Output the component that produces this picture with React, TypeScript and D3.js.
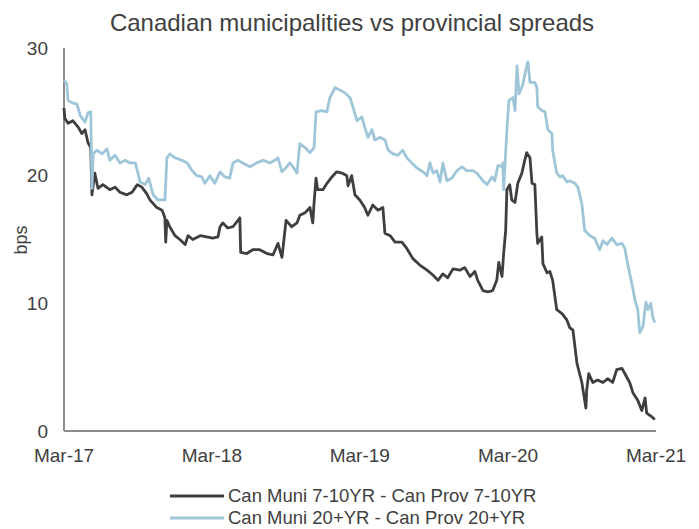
import React from "react";
import * as d3 from "d3";

const title = "Canadian municipalities vs provincial spreads";
const yLabel = "bps";
const yTicks = [0, 10, 20, 30];
const xTickDates = ["2017-03-01", "2018-03-01", "2019-03-01", "2020-03-01", "2021-03-01"];
const seriesNames = ["Can Muni 7-10YR - Can Prov 7-10YR", "Can Muni 20+YR - Can Prov 20+YR"];
const seriesColors = ["#3f3f3f", "#9ec6d8"];

const muni710: [string, number][] = [
  ["2017-03-01", 25.3], ["2017-03-03", 24.5], ["2017-03-11", 24.1], ["2017-03-23", 24.3],
  ["2017-04-05", 23.8], ["2017-04-14", 23.3], ["2017-04-22", 23.6], ["2017-04-29", 22.6],
  ["2017-05-06", 22.2], ["2017-05-09", 18.5], ["2017-05-16", 20.2], ["2017-05-24", 19.0],
  ["2017-06-05", 19.3], ["2017-06-22", 18.9], ["2017-07-05", 19.1], ["2017-07-17", 18.7],
  ["2017-08-03", 18.5], ["2017-08-16", 18.7], ["2017-08-29", 19.3], ["2017-09-09", 19.1],
  ["2017-09-21", 18.6], ["2017-09-29", 18.1], ["2017-10-16", 17.5], ["2017-10-29", 17.3],
  ["2017-11-05", 16.7], ["2017-11-07", 14.8], ["2017-11-10", 16.5], ["2017-11-17", 16.0],
  ["2017-11-30", 15.3], ["2017-12-12", 15.0], ["2017-12-25", 14.6], ["2018-01-01", 15.3],
  ["2018-01-13", 15.0], ["2018-01-31", 15.3], ["2018-02-16", 15.2], ["2018-03-03", 15.1],
  ["2018-03-16", 15.2], ["2018-03-21", 16.0], ["2018-03-28", 16.3], ["2018-04-09", 15.9],
  ["2018-04-22", 16.0], ["2018-05-09", 16.7], ["2018-05-11", 14.0], ["2018-05-26", 13.9],
  ["2018-06-10", 14.2], ["2018-06-27", 14.2], ["2018-07-15", 13.9], ["2018-07-30", 13.8],
  ["2018-08-11", 14.7], ["2018-08-21", 13.6], ["2018-08-31", 16.5], ["2018-09-14", 16.0],
  ["2018-09-27", 16.3], ["2018-10-04", 16.9], ["2018-10-17", 17.1], ["2018-10-29", 17.5],
  ["2018-11-05", 16.3], ["2018-11-08", 17.8], ["2018-11-13", 19.8], ["2018-11-17", 18.9],
  ["2018-11-30", 18.9], ["2018-12-10", 19.4], ["2018-12-22", 19.9], ["2019-01-03", 20.3],
  ["2019-01-16", 20.2], ["2019-01-28", 20.0], ["2019-01-31", 19.2], ["2019-02-09", 20.0],
  ["2019-02-17", 18.5], ["2019-03-01", 18.1], ["2019-03-13", 17.5], ["2019-03-21", 16.9],
  ["2019-04-02", 17.7], ["2019-04-15", 17.3], ["2019-04-27", 17.5], ["2019-05-02", 15.5],
  ["2019-05-15", 15.3], ["2019-05-27", 14.8], ["2019-06-13", 14.8], ["2019-06-25", 14.3],
  ["2019-07-10", 13.5], ["2019-07-27", 13.0], ["2019-08-14", 12.6], ["2019-08-29", 12.2],
  ["2019-09-10", 11.8], ["2019-09-22", 12.3], ["2019-10-04", 12.0], ["2019-10-17", 12.7],
  ["2019-11-03", 12.6], ["2019-11-15", 12.8], ["2019-11-28", 12.1], ["2019-12-10", 12.5],
  ["2019-12-17", 11.8], ["2019-12-30", 11.0], ["2020-01-11", 10.9], ["2020-01-23", 11.0],
  ["2020-02-02", 11.8], ["2020-02-07", 13.2], ["2020-02-15", 12.1], ["2020-02-19", 13.9],
  ["2020-02-24", 15.7], ["2020-02-27", 18.9], ["2020-03-05", 19.3], ["2020-03-10", 18.1],
  ["2020-03-18", 17.9], ["2020-03-25", 19.4], ["2020-04-04", 20.2], ["2020-04-11", 21.2],
  ["2020-04-16", 21.8], ["2020-04-24", 21.4], ["2020-04-29", 19.4], ["2020-05-06", 19.3],
  ["2020-05-11", 15.5], ["2020-05-13", 14.7], ["2020-05-23", 15.2], ["2020-05-26", 13.1],
  ["2020-06-05", 12.4], ["2020-06-12", 12.5], ["2020-06-19", 11.8], ["2020-06-29", 9.5],
  ["2020-07-12", 9.2], ["2020-07-24", 8.7], ["2020-07-31", 8.1], ["2020-08-08", 7.9],
  ["2020-08-18", 5.3], ["2020-08-30", 3.8], ["2020-09-09", 1.8], ["2020-09-11", 3.2],
  ["2020-09-16", 4.5], ["2020-09-26", 3.8], ["2020-10-08", 4.0], ["2020-10-21", 3.8],
  ["2020-11-02", 4.1], ["2020-11-14", 3.8], ["2020-11-24", 4.8], ["2020-12-07", 4.9],
  ["2020-12-14", 4.5], ["2020-12-26", 3.8], ["2021-01-03", 3.0], ["2021-01-15", 2.4],
  ["2021-01-25", 1.6], ["2021-02-02", 2.6], ["2021-02-06", 1.4], ["2021-02-19", 1.1],
  ["2021-02-26", 0.9],
];

const muni20: [string, number][] = [
  ["2017-03-01", 27.5], ["2017-03-08", 27.2], ["2017-03-11", 25.9], ["2017-03-21", 25.7],
  ["2017-04-02", 25.6], ["2017-04-10", 24.7], ["2017-04-22", 24.2], ["2017-04-29", 24.9],
  ["2017-05-06", 25.0], ["2017-05-09", 19.0], ["2017-05-12", 21.7], ["2017-05-21", 22.0],
  ["2017-06-03", 21.7], ["2017-06-15", 22.1], ["2017-06-22", 21.2], ["2017-07-05", 21.6],
  ["2017-07-17", 21.0], ["2017-07-30", 21.2], ["2017-08-11", 21.0], ["2017-08-24", 21.0],
  ["2017-09-05", 19.5], ["2017-09-17", 19.3], ["2017-09-26", 19.8], ["2017-10-07", 18.5],
  ["2017-10-19", 18.1], ["2017-11-05", 18.1], ["2017-11-10", 21.4], ["2017-11-17", 21.7],
  ["2017-11-30", 21.4], ["2017-12-17", 21.2], ["2017-12-30", 21.0], ["2018-01-11", 20.4],
  ["2018-01-23", 20.0], ["2018-02-04", 19.9], ["2018-02-12", 19.4], ["2018-02-24", 20.0],
  ["2018-03-08", 19.4], ["2018-03-21", 20.3], ["2018-04-02", 19.9], ["2018-04-14", 19.8],
  ["2018-04-22", 21.0], ["2018-05-04", 21.2], ["2018-05-16", 21.0], ["2018-06-03", 20.7],
  ["2018-06-20", 21.0], ["2018-07-05", 21.2], ["2018-07-22", 21.0], ["2018-08-03", 21.2],
  ["2018-08-11", 21.4], ["2018-08-21", 20.3], ["2018-09-02", 20.7], ["2018-09-09", 21.0],
  ["2018-09-17", 20.7], ["2018-09-27", 20.2], ["2018-10-04", 22.5], ["2018-10-17", 22.2],
  ["2018-10-29", 21.8], ["2018-11-08", 22.2], ["2018-11-13", 25.0], ["2018-11-27", 25.1],
  ["2018-12-10", 25.0], ["2018-12-17", 26.1], ["2018-12-30", 26.9], ["2019-01-11", 26.7],
  ["2019-01-23", 26.5], ["2019-02-05", 26.1], ["2019-02-12", 25.4], ["2019-02-22", 24.3],
  ["2019-03-06", 24.6], ["2019-03-13", 23.8], ["2019-03-21", 23.0], ["2019-03-31", 23.6],
  ["2019-04-07", 22.8], ["2019-04-20", 23.0], ["2019-05-02", 22.8], ["2019-05-10", 22.0],
  ["2019-05-22", 21.7], ["2019-06-03", 21.6], ["2019-06-15", 22.0], ["2019-06-25", 21.4],
  ["2019-07-07", 21.0], ["2019-07-20", 20.6], ["2019-08-04", 20.3], ["2019-08-14", 20.0],
  ["2019-08-21", 21.0], ["2019-08-29", 20.2], ["2019-09-07", 20.4], ["2019-09-15", 19.5],
  ["2019-09-22", 21.0], ["2019-10-02", 19.6], ["2019-10-14", 19.8], ["2019-10-27", 20.4],
  ["2019-11-08", 20.7], ["2019-11-20", 20.4], ["2019-12-05", 20.4], ["2019-12-15", 20.2],
  ["2019-12-30", 19.6], ["2020-01-09", 19.3], ["2020-01-21", 19.9], ["2020-01-28", 19.6],
  ["2020-02-05", 20.8], ["2020-02-15", 20.7], ["2020-02-17", 21.0], ["2020-02-19", 18.9],
  ["2020-02-27", 23.6], ["2020-03-03", 25.9], ["2020-03-13", 26.1], ["2020-03-18", 25.1],
  ["2020-03-23", 28.6], ["2020-03-28", 26.4], ["2020-04-06", 27.1], ["2020-04-16", 28.6],
  ["2020-04-19", 28.9], ["2020-04-24", 27.3], ["2020-05-06", 27.3], ["2020-05-11", 26.9],
  ["2020-05-13", 25.4], ["2020-05-23", 25.1], ["2020-05-31", 25.0], ["2020-06-07", 23.6],
  ["2020-06-17", 23.3], ["2020-06-19", 22.0], ["2020-06-29", 20.2], ["2020-07-07", 19.9],
  ["2020-07-14", 20.0], ["2020-07-24", 19.5], ["2020-07-31", 19.6], ["2020-08-13", 19.4],
  ["2020-08-20", 19.1], ["2020-08-30", 17.8], ["2020-09-06", 15.7], ["2020-09-19", 15.3],
  ["2020-10-01", 15.1], ["2020-10-06", 14.7], ["2020-10-13", 14.2], ["2020-10-21", 14.9],
  ["2020-10-31", 14.6], ["2020-11-12", 15.1], ["2020-11-24", 14.6], ["2020-12-07", 14.7],
  ["2020-12-14", 14.3], ["2020-12-21", 13.1], ["2020-12-31", 11.6], ["2021-01-08", 10.3],
  ["2021-01-15", 9.5], ["2021-01-20", 7.7], ["2021-01-28", 8.2], ["2021-02-04", 10.1],
  ["2021-02-09", 9.5], ["2021-02-16", 10.0], ["2021-02-21", 8.9], ["2021-02-26", 8.5],
];

const seriesData = [muni710, muni20];

const W = 699;
const H = 529;
const FONT = "'Liberation Sans', Arial, sans-serif";
const TEXT = "#404040";

export default function App() {
  const parse = d3.utcParse("%Y-%m-%d");
  const x = d3
    .scaleUtc()
    .domain([parse("2017-03-01")!, parse("2021-03-01")!])
    .range([64, 656]);
  const y = d3.scaleLinear().domain([0, 30]).range([431, 48]);
  const fmt = d3.utcFormat("%b-%y");

  const line = d3
    .line<[string, number]>()
    .x((d) => x(parse(d[0])!))
    .y((d) => y(d[1]));

  const x0 = x.range()[0];
  const x1 = x.range()[1];

  return (
    <svg
      width={W}
      height={H}
      style={{ position: "absolute", left: 0, top: 0, background: "#fff" }}
      fontFamily={FONT}
    >
      <text x={352} y={31} textAnchor="middle" fontSize={24} fill={TEXT}>
        {title}
      </text>

      {/* y axis */}
      <line x1={x0} x2={x0} y1={y(30)} y2={y(0)} stroke="#8c8c8c" strokeWidth={2} />
      {yTicks.map((t) => (
        <text key={t} x={48} y={y(t)} dy="0.35em" textAnchor="end" fontSize={19} fill={TEXT}>
          {t}
        </text>
      ))}
      <text
        transform={`translate(21,${240}) rotate(-90)`}
        textAnchor="middle"
        dy="0.35em"
        fontSize={18}
        fill={TEXT}
      >
        {yLabel}
      </text>

      {/* series */}
      {seriesData.map((s, i) => (
        <path
          key={i}
          d={line(s) || ""}
          fill="none"
          stroke={seriesColors[i]}
          strokeWidth={2.8}
          strokeLinejoin="round"
        />
      ))}

      {/* x axis */}
      <line x1={x0} x2={x1} y1={y(0)} y2={y(0)} stroke="#8c8c8c" strokeWidth={2} />
      {xTickDates.map((d) => (
        <text key={d} x={x(parse(d)!)} y={462} textAnchor="middle" fontSize={19} fill={TEXT}>
          {fmt(parse(d)!)}
        </text>
      ))}

      {/* legend */}
      {seriesNames.map((n, i) => (
        <g key={n} transform={`translate(0,${496 + i * 22})`}>
          <line x1={170} x2={224} y1={0} y2={0} stroke={seriesColors[i]} strokeWidth={3} />
          <text x={228} y={0} dy="0.35em" fontSize={18.5} fill={TEXT}>
            {n}
          </text>
        </g>
      ))}
    </svg>
  );
}
